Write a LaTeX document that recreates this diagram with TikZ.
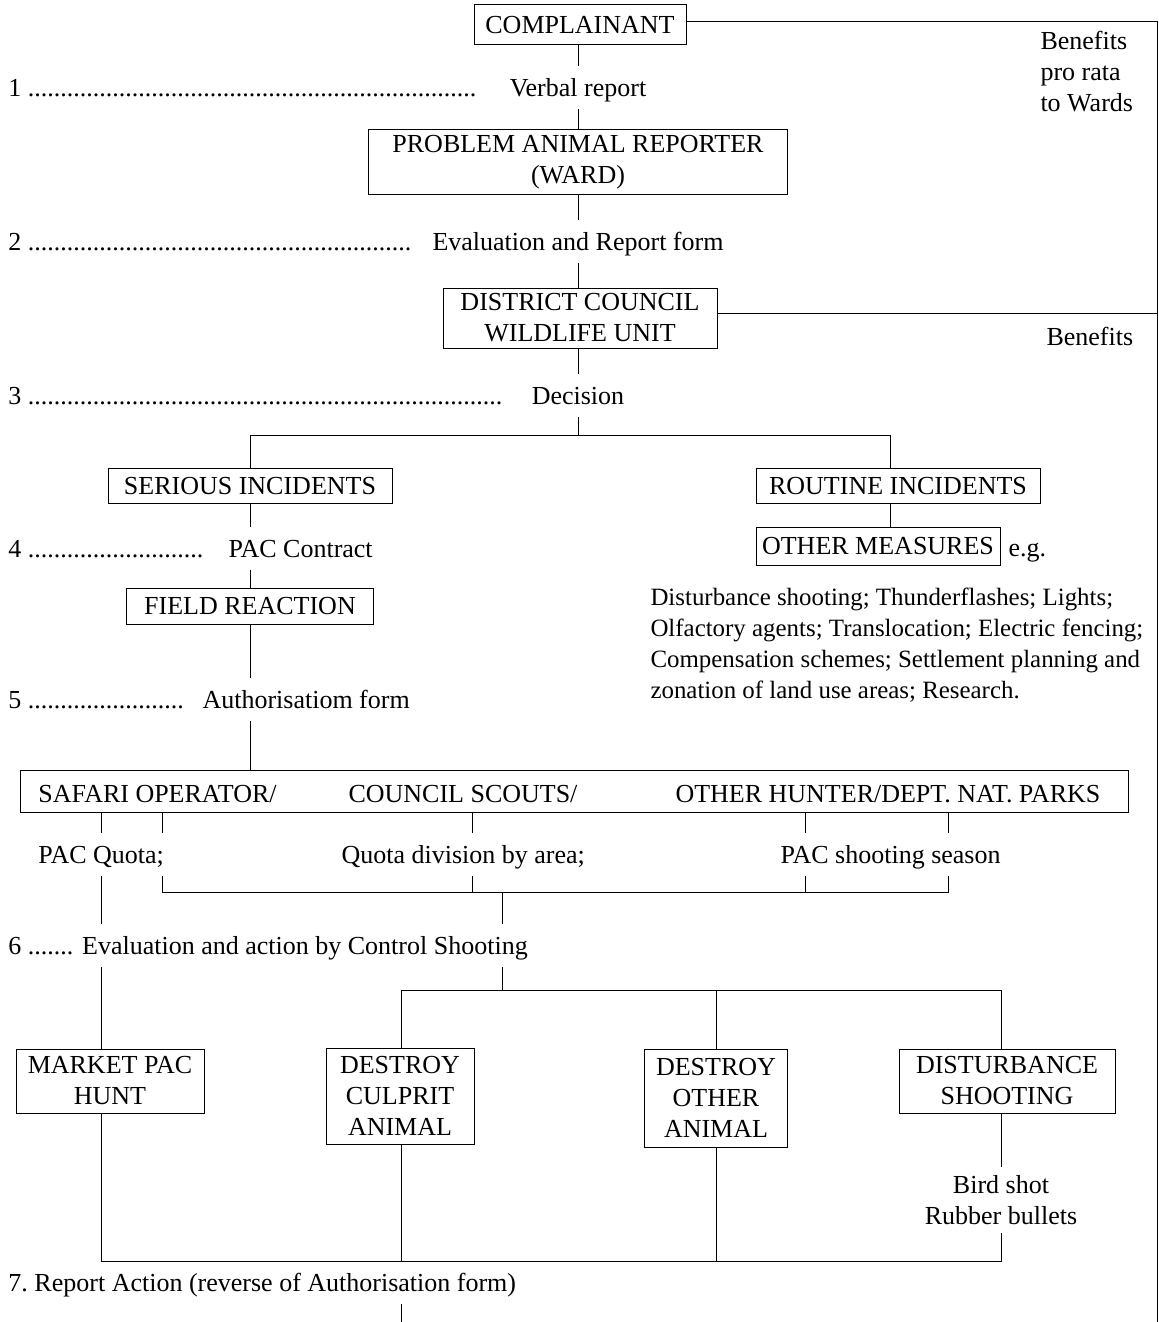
\documentclass[tikz,border=0pt]{standalone}
\usepackage{fontspec}
\setmainfont{Liberation Serif}
\newcommand{\stepdots}[2]{\makebox[#2][l]{#1 \leaders\hbox{.}\hfill}}

\begin{document}
\begin{tikzpicture}[x=0.5pt, y=-0.5pt, font=\fontsize{13}{15.5}\selectfont, line width=0.5pt,
  box/.style={draw, align=center, inner sep=0pt},
  lbl/.style={text height=12pt, text depth=3pt, inner xsep=0pt, inner ysep=3pt},
  note/.style={align=left, inner sep=0pt, anchor=north west}]
  \useasboundingbox (0,0) rectangle (1159,1322);

  \node[box, minimum width=106pt, minimum height=20pt] (complainant) at (580,25) {COMPLAINANT};
  \node[lbl, anchor=base west] (step1) at (8,97) {\stepdots{1}{235pt}};
  \node[lbl, anchor=base] (verbal) at (578,97) {Verbal report};
  \node[box, minimum width=209.5pt, minimum height=32.5pt] (reporter) at (578,162) {PROBLEM ANIMAL REPORTER\\(WARD)};
  \node[lbl, anchor=base west] (step2) at (8,250) {\stepdots{2}{202.5pt}};
  \node[lbl, anchor=base] (evalform) at (578,250) {Evaluation and Report form};
  \node[box, minimum width=137pt, minimum height=30pt] (district) at (580,318) {DISTRICT COUNCIL\\WILDLIFE UNIT};
  \node[lbl, anchor=base west] (step3) at (8,404) {\stepdots{3}{250pt}};
  \node[lbl, anchor=base] (decision) at (578,404) {Decision};
  \coordinate (split) at (578,435);
  \coordinate (rcol) at (890,435);

  \node[box, minimum width=142pt, minimum height=17.5pt] (serious) at (250,486) {SERIOUS INCIDENTS};
  \node[box, minimum width=142pt, minimum height=17.5pt] (routine) at (898,486) {ROUTINE INCIDENTS};
  \node[box, minimum width=122pt, minimum height=19pt] (measures) at (878,546) {OTHER MEASURES};
  \node[lbl, anchor=base west] (eg) at (1008,556) {e.g.};
  \node[note, font=\fontsize{12.45}{15.5}\selectfont] (examples) at (650,587) {Disturbance shooting; Thunderflashes; Lights;\\Olfactory agents; Translocation; Electric fencing;\\Compensation schemes; Settlement planning and\\zonation of land use areas; Research.};

  \node[lbl, anchor=base west] (step4) at (8,557) {\stepdots{4}{98.5pt}};
  \node[lbl, anchor=base west] (contract) at (228,557) {PAC Contract};
  \node[box, minimum width=123.5pt, minimum height=18pt] (field) at (250,606) {FIELD REACTION};
  \node[lbl, anchor=base west] (step5) at (8,708) {\stepdots{5}{88.5pt}};
  \node[lbl, anchor=base west] (authform) at (202,708) {Authorisatiom form};

  \node[draw, minimum width=554pt, minimum height=21pt, inner sep=0pt] (agents) at (574,791) {};
  \node[lbl, anchor=base west] (safari) at (38,802) {SAFARI OPERATOR/};
  \node[lbl, anchor=base west] (scouts) at (348,802) {COUNCIL SCOUTS/};
  \node[lbl, anchor=base west] (hunter) at (675,802) {OTHER HUNTER/DEPT. NAT. PARKS};

  \node[lbl, anchor=base west] (quota) at (38,863) {PAC Quota;};
  \node[lbl, anchor=base west] (division) at (341,863) {Quota division by area;};
  \node[lbl, anchor=base west] (season) at (780,863) {PAC shooting season};
  \coordinate (c1) at (101,0);
  \coordinate (c2) at (162,0);
  \coordinate (c3) at (472,0);
  \coordinate (c4) at (805,0);
  \coordinate (c5) at (948,0);
  \coordinate (join) at (502,892);

  \node[lbl, anchor=base west] (step6) at (8,954) {6 ....... Evaluation and action by Control Shooting};
  \coordinate (fork) at (502,990);

  \node[box, minimum width=94pt, minimum height=32pt] (market) at (110,1081) {MARKET PAC\\HUNT};
  \node[box, minimum width=74pt, minimum height=48pt] (culprit) at (400,1096) {DESTROY\\CULPRIT\\ANIMAL};
  \node[box, minimum width=71.5pt, minimum height=49pt] (otheranimal) at (716,1098) {DESTROY\\OTHER\\ANIMAL};
  \node[box, minimum width=108pt, minimum height=32pt] (disturb) at (1007,1081) {DISTURBANCE\\SHOOTING};
  \node[align=center, inner sep=4pt] (shot) at (1001,1200) {Bird shot\\Rubber bullets};
  \coordinate (b2) at (401,0);
  \coordinate (b3) at (716,0);
  \coordinate (b4) at (1001,0);
  \coordinate (gather) at (401,1261);

  \node[lbl, anchor=base west] (step7) at (8,1291) {7.\ Report Action (reverse of Authorisation form)};
  \coordinate (tail) at (401,1322);

  \coordinate (rim) at (1157,1322);
  \node[note] (prorata) at (1040,31) {Benefits\\pro rata\\to Wards};
  \node[lbl, anchor=base west] (benefits) at (1046,345) {Benefits};

  \draw (complainant.south -| split) -- (verbal);
  \draw (verbal) -- (reporter);
  \draw (reporter) -- (evalform);
  \draw (evalform) -- (district.north -| split);
  \draw (district.south -| split) -- (decision);
  \draw (decision) -- (split);
  \draw (serious.north) |- (rcol) -- (routine.north -| rcol);
  \draw (routine.south -| rcol) -- (measures.north -| rcol);
  \draw (serious.south) -- (serious.south |- contract.north);
  \draw (serious.south |- contract.south) -- (field);
  \draw (field) -- (field.south |- authform.north);
  \draw (field.south |- authform.south) -- (field.south |- agents.north);
  \foreach \c/\t in {c1/quota, c2/quota, c3/division, c4/season, c5/season}
    \draw (agents.south -| \c) -- (\t.north -| \c);
  \draw (quota.south -| c2) |- (join) -| (season.south -| c5);
  \draw (division.south -| c3) -- (join -| c3);
  \draw (season.south -| c4) -- (join -| c4);
  \draw (join) -- (step6.north -| join);
  \draw (quota.south -| c1) -- (step6.north -| c1);
  \draw (step6.south -| c1) -- (market.north -| c1);
  \draw (step6.south -| join) -- (fork);
  \draw (culprit.north -| b2) |- (fork) -| (disturb.north -| b4);
  \draw (otheranimal.north -| b3) -- (fork -| b3);
  \draw (market.south -| c1) |- (gather) -| (shot.south -| b4);
  \draw (culprit.south -| b2) -- (gather);
  \draw (otheranimal.south -| b3) -- (gather -| b3);
  \draw (disturb.south -| b4) -- (shot.north -| b4);
  \draw (step7.south -| b2) -- (tail);
  \draw ([yshift=1.5pt]complainant.east) -| (rim);
  \draw ([yshift=2.5pt]district.east) -- ([yshift=2.5pt]district.east -| rim);
\end{tikzpicture}
\end{document}
